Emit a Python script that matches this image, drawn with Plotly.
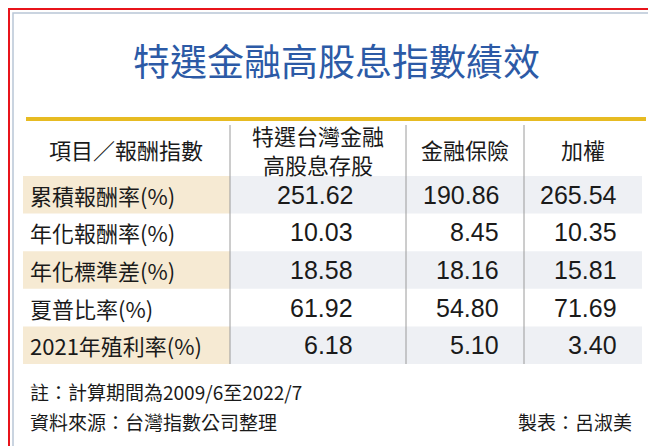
import plotly.graph_objects as go

title = "特選金融高股息指數績效"
headers = ["項目／報酬指數", "特選台灣金融", "高股息存股", "金融保險", "加權"]
items = ["累積報酬率(%)", "年化報酬率(%)", "年化標準差(%)", "夏普比率(%)", "2021年殖利率(%)"]
special = [251.62, 10.03, 18.58, 61.92, 6.18]
finance = [190.86, 8.45, 18.16, 54.80, 5.10]
taiex = [265.54, 10.35, 15.81, 71.69, 3.40]
note = "註：計算期間為2009/6至2022/7"
source = "資料來源：台灣指數公司整理"
maker = "製表：呂淑美"

W, H = 656, 446
font = "Noto Sans CJK TC"
txt = "#1a1a1a"
fig = go.Figure()
shapes = []
ann = []

# frames
shapes.append(dict(type="rect", x0=1, y0=1, x1=W - 2, y1=H - 2, line=dict(color="#e8141b", width=2)))
shapes.append(dict(type="rect", x0=5, y0=5, x1=W - 7, y1=H - 6, line=dict(color="#b9c6d6", width=1.5)))
# gold rule
shapes.append(dict(type="line", x0=18, y0=111, x1=638, y1=111, line=dict(color="#e7bb22", width=4)))

ann.append(dict(x=W / 2, y=52, text=title, showarrow=False,
                font=dict(family=font, size=37, color="#2c5aa6")))

row_top = 168
row_h = 37.6
col_sep = [222, 398, 516]
col_right = [347, 493, 611]

for i, lab in enumerate(items):
    y0 = row_top + i * row_h
    yc = y0 + row_h / 2
    if i % 2 == 0:
        shapes.append(dict(type="rect", x0=15, y0=y0, x1=222, y1=y0 + row_h, line_width=0,
                           fillcolor="#f6ead3", layer="below"))
        shapes.append(dict(type="rect", x0=222, y0=y0, x1=634, y1=y0 + row_h, line_width=0,
                           fillcolor="#eef0f4", layer="below"))
    ann.append(dict(x=20, y=yc, text=lab, xanchor="left", showarrow=False,
                    font=dict(family=font, size=22, color=txt)))
    for v, xr in zip([special[i], finance[i], taiex[i]], col_right):
        ann.append(dict(x=xr, y=yc, text=f"{v:.2f}", xanchor="right", showarrow=False,
                        font=dict(family="Liberation Sans Narrow, Liberation Sans", size=25, color=txt)))

for xs in col_sep:
    shapes.append(dict(type="line", x0=xs, y0=117, x1=xs, y1=row_top + 5 * row_h,
                       line=dict(color="#9a9a9a", width=1)))

hdr = [(118, 141), (310, 127), (310, 156), (457, 141), (575, 141)]
for t, (x, y) in zip(headers, hdr):
    ann.append(dict(x=x, y=y, text=t, showarrow=False,
                    font=dict(family=font, size=22, color=txt)))

ann.append(dict(x=20, y=383, text=note, xanchor="left", showarrow=False,
                font=dict(family=font, size=19, color=txt)))
ann.append(dict(x=20, y=413, text=source, xanchor="left", showarrow=False,
                font=dict(family=font, size=19, color=txt)))
ann.append(dict(x=626, y=413, text=maker, xanchor="right", showarrow=False,
                font=dict(family=font, size=19, color=txt)))

fig.update_layout(
    width=W, height=H, margin=dict(l=0, r=0, t=0, b=0),
    paper_bgcolor="white", plot_bgcolor="white",
    xaxis=dict(range=[0, W], visible=False, fixedrange=True),
    yaxis=dict(range=[H, 0], visible=False, fixedrange=True),
    shapes=shapes, annotations=ann, showlegend=False,
)
fig.write_html("out.html")
